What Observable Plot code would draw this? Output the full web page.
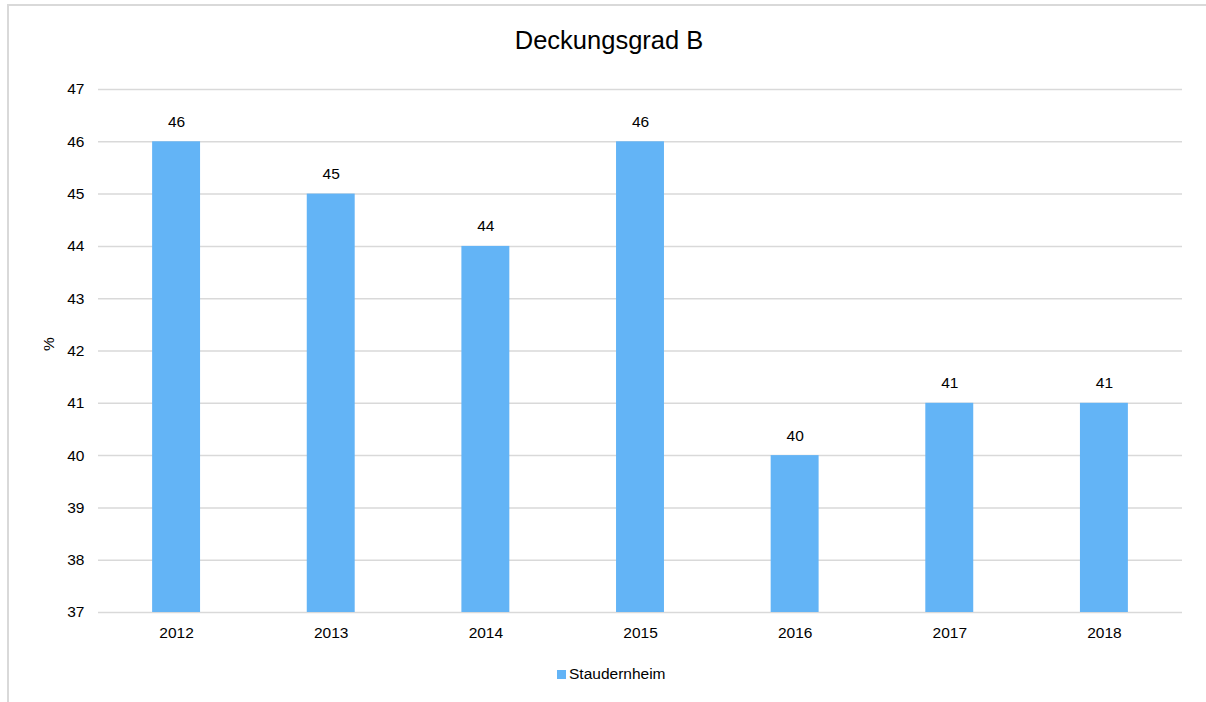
<!DOCTYPE html>
<html>
<head>
<meta charset="utf-8">
<script src="https://cdn.jsdelivr.net/npm/d3@7"></script>
<script src="https://cdn.jsdelivr.net/npm/@observablehq/plot@0.6"></script>
<style>
  html, body { margin: 0; padding: 0; background: #fff; }
  body { font-family: "Liberation Sans", Arial, sans-serif; color: #000; }
  #chart { position: relative; width: 1206px; height: 702px; overflow: hidden; }
  #frame { position: absolute; left: 7px; top: 4px; width: 1210px; height: 720px;
           border-top: 2px solid #d9d9d9; border-left: 2px solid #d9d9d9; box-sizing: border-box; }
  #title { position: absolute; left: 0; top: 28px; width: 1218px; text-align: center;
           font-size: 25.5px; line-height: 25.5px; }
  #plot { position: absolute; left: 0; top: 60px; }
  #legend-swatch { position: absolute; left: 557px; top: 670px; width: 9px; height: 9px; }
  #legend-text { position: absolute; left: 569px; top: 666px; font-size: 15.5px; line-height: 15.5px; }
</style>
</head>
<body>
<div id="chart">
  <div id="frame"></div>
  <div id="title"></div>
  <div id="plot"></div>
  <div id="legend-swatch"></div>
  <div id="legend-text"></div>
</div>
<script>
const title = "Deckungsgrad B";
const seriesName = "Staudernheim";
const yLabel = "%";
const years = ["2012", "2013", "2014", "2015", "2016", "2017", "2018"];
const values = [46, 45, 44, 46, 40, 41, 41];
const yTicks = [37, 38, 39, 40, 41, 42, 43, 44, 45, 46, 47];
const barColor = "#63b4f6";

const data = years.map((year, i) => ({year, value: values[i]}));
const yMin = yTicks[0];
const yMax = yTicks[yTicks.length - 1];

document.getElementById("title").textContent = title;
document.getElementById("legend-text").textContent = seriesName;
document.getElementById("legend-swatch").style.background = barColor;

const chart = Plot.plot({
  width: 1206,
  height: 600,
  marginTop: 29,
  marginBottom: 48,
  marginLeft: 98,
  marginRight: 24,
  style: { fontFamily: "'Liberation Sans', Arial, sans-serif", fontSize: "15.5px", color: "#000", background: "transparent" },
  x: { domain: years, paddingInner: 0.69, paddingOuter: 0.35, align: 0.5, round: false, label: null },
  y: { domain: [yMin, yMax], label: null },
  marks: [
    Plot.gridY(yTicks, { stroke: "#d9d9d9", strokeOpacity: 1, strokeWidth: 1.5 }),
    Plot.barY(data, { x: "year", y1: () => yMin, y2: "value", fill: barColor }),
    Plot.axisY(yTicks, { tickSize: 0, tickPadding: 14, label: null, fontSize: 15.5, tickFormat: d => String(d) }),
    Plot.axisX({ tickSize: 0, tickPadding: 14, label: null, fontSize: 15.5 }),
    Plot.text(data, { x: "year", y: "value", text: d => String(d.value), dy: -20, lineAnchor: "middle", fontSize: 15.5, fill: "#000" }),
    Plot.text([yLabel], { frameAnchor: "left", dx: -49, rotate: -90, fontSize: 15.5, fill: "#000" })
  ]
});
document.getElementById("plot").appendChild(chart);
</script>
</body>
</html>
